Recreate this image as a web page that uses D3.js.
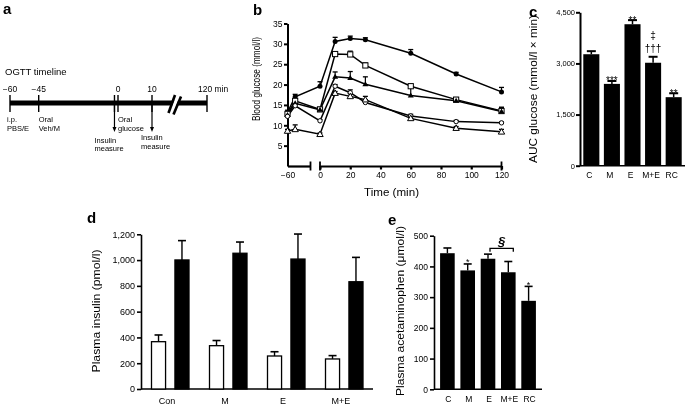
<!DOCTYPE html>
<html><head><meta charset="utf-8">
<script src="https://cdn.jsdelivr.net/npm/d3@7"></script>
<style>body{margin:0;background:#fff}svg{display:block;filter:grayscale(1);-webkit-font-smoothing:antialiased}text{font-family:"Liberation Sans",Arial,Helvetica,sans-serif;fill:#000}</style>
</head><body><svg id="c" width="685" height="405"></svg>
<script>
// ---------- DATA ----------
// panel a (timeline schematic)
const timelineTicks = [-60, -45, -2, 0, 10, 120];
const timelineLabelTimes = [-60, -45, 0, 10, 120];
const timelineLabels = ["−60", "−45", "0", "10", "120 min"];
const timelineNotes = [["i.p.", "PBS/E"], ["Oral", "Veh/M"], ["Oral", "glucose"]];
const timelineNoteTimes = [-60, -45, 0];
const insulinMeasureTimes = [-2, 10];

// panel b (OGTT curves)
const glucoseTimes = [-60, -55, 0, 10, 20, 30, 60, 90, 120];
const glucoseFilledCircle = [13.2, 17.0, 19.6, 30.6, 31.3, 31.0, 27.7, 22.6, 18.2];
const errFilledCircle     = [0.5, 0.6, 1.1, 1.0, 0.6, 0.5, 0.9, 0.4, 1.1];
const glucoseOpenSquare   = [12.8, 16.0, 13.9, 27.5, 27.4, 24.7, 19.6, 16.3, 13.5];
const errOpenSquare       = [0.4, 0.5, 0.5, 0.4, 0.8, 0.6, 0.4, 0.4, 0.9];
const glucoseFilledTri    = [12.5, 15.4, 13.8, 21.9, 21.6, 20.1, 17.3, 16.0, 13.4];
const errFilledTri        = [0.4, 0.4, 0.4, 1.2, 1.6, 1.8, 2.2, 0.8, 1.0];
const glucoseOpenCircle   = [12.2, 14.8, 11.1, 19.6, 18.0, 15.6, 12.3, 10.9, 10.6];
const errOpenCircle       = [0.3, 0.4, 0.3, 0.4, 0.7, 0.7, 0.4, 0.3, 0.2];
const glucoseOpenTri      = [8.6, 9.0, 7.8, 17.9, 17.1, 16.3, 11.7, 9.3, 8.4];
const errOpenTri          = [0.4, 1.1, 0.3, 0.4, 0.7, 0.8, 0.4, 0.4, 0.6];
const glucoseTicks = [5, 10, 15, 20, 25, 30, 35];
const timeTicks = [0, 20, 40, 60, 80, 100, 120];

// panel c (AUC)
const aucCats = ["C", "M", "E", "M+E", "RC"];
const aucValues = [3270, 2400, 4150, 3020, 2010];
const aucErr = [90, 85, 120, 175, 115];
const aucMarks = ["", "***", "**", "†††", "**"];
const aucMarks2 = ["", "", "", "‡", ""];
const aucTicks = [0, 1500, 3000, 4500];

// panel d (insulin)
const insulinCats = ["Con", "M", "E", "M+E"];
const insulinPre = [367, 336, 256, 233];
const insulinPreErr = [52, 40, 33, 26];
const insulinPost = [1001, 1053, 1008, 832];
const insulinPostErr = [150, 87, 194, 189];
const insulinTicks = [0, 200, 400, 600, 800, 1000, 1200];

// panel e (acetaminophen)
const acetCats = ["C", "M", "E", "M+E", "RC"];
const acetValues = [443, 387, 425, 381, 288];
const acetErr = [17, 21, 15, 35, 47];
const acetMarks = ["", "*", "", "", "*"];
const acetTicks = [0, 100, 200, 300, 400, 500];

// ---------- DRAW ----------
const svg = d3.select("#c");
const FONT = '"Liberation Sans", Arial, Helvetica, sans-serif';

function txt(g, x, y, s, size, anchor) {
  return g.append("text").attr("x", x).attr("y", y).attr("font-size", size)
    .attr("text-anchor", anchor || "start").text(s);
}
function vlabel(g, cx, cy, s, size, len) {
  const t = g.append("text").attr("transform", `translate(${cx},${cy}) rotate(-90)`)
    .attr("text-anchor", "middle").attr("font-size", size).text(s);
  if (len) t.attr("textLength", len).attr("lengthAdjust", "spacingAndGlyphs");
  return t;
}
function styleAxis(g, size, sw) {
  g.attr("font-family", FONT).attr("font-size", size);
  g.selectAll(".domain").attr("stroke-width", sw);
  g.selectAll(".tick line").attr("stroke-width", sw);
  g.selectAll(".tick text").attr("fill", "#000");
}
function panelLabel(s, x, y) {
  svg.append("text").attr("x", x).attr("y", y).attr("font-size", 15).attr("font-weight", "bold").text(s);
}

// ===== Panel a =====
(function () {
  const g = svg.append("g");
  const tl = d3.scaleLinear().domain([-60, -45, 0, 10, 120]).range([10, 38.7, 118, 152, 207]);
  panelLabel("a", 3, 14);
  txt(g, 5, 75, "OGTT timeline", 9.5);
  timelineLabelTimes.forEach((t, i) => {
    if (timelineLabels[i].includes("min")) txt(g, tl(t) - 9, 91.5, timelineLabels[i], 8.5);
    else txt(g, tl(t), 91.5, timelineLabels[i], 8.5, "middle");
  });
  g.append("line").attr("x1", tl(-60)).attr("x2", tl(120)).attr("y1", 103).attr("y2", 103)
    .attr("stroke", "#000").attr("stroke-width", 5);
  timelineTicks.forEach(t => {
    g.append("line").attr("x1", tl(t)).attr("x2", tl(t)).attr("y1", 95).attr("y2", 112)
      .attr("stroke", "#000").attr("stroke-width", 1.4);
  });
  // axis break
  const bx = tl(55);
  g.append("polygon").attr("points", `${bx - 4},110 ${bx + 1},97 ${bx + 5},97 ${bx},110`).attr("fill", "#fff");
  g.append("line").attr("x1", bx - 6).attr("y1", 113).attr("x2", bx + 0.5).attr("y2", 95)
    .attr("stroke", "#000").attr("stroke-width", 2.6);
  g.append("line").attr("x1", bx - 1).attr("y1", 114.5).attr("x2", bx + 6.5).attr("y2", 96.5)
    .attr("stroke", "#000").attr("stroke-width", 2.6);
  timelineNoteTimes.forEach((t, i) => {
    const x0 = tl(t) + (i === 0 ? -3 : 0);
    txt(g, x0, 121.5, timelineNotes[i][0], 7.5);
    txt(g, x0, 131, timelineNotes[i][1], 7.5);
  });
  insulinMeasureTimes.forEach((t, i) => {
    const x = tl(t);
    g.append("line").attr("x1", x).attr("x2", x).attr("y1", 103).attr("y2", 128)
      .attr("stroke", "#000").attr("stroke-width", 1.2);
    g.append("path").attr("d", `M${x - 2},127 L${x + 2},127 L${x},132 Z`).attr("fill", "#000");
    const lx = i === 0 ? x - 20 : x - 11;
    const ly = i === 0 ? 142.5 : 140;
    txt(g, lx, ly, "Insulin", 7.5);
    txt(g, lx, ly + 8.5, "measure", 7.5);
  });
})();

// ===== Panel b =====
(function () {
  const g = svg.append("g");
  panelLabel("b", 253, 15);
  const y = d3.scaleLinear().domain([0, 35]).range([166, 23.5]);
  const xL = d3.scaleLinear().domain([-60, -45]).range([287.5, 310.5]);
  const xR = d3.scaleLinear().domain([0, 120]).range([320, 501.5]);
  const x = t => (t < -30 ? xL(t) : xR(t));

  const ya = g.append("g").attr("transform", `translate(${xL(-60)},0)`)
    .call(d3.axisLeft(y).tickValues(glucoseTicks).tickSize(3.5).tickSizeOuter(0).tickPadding(1.5));
  styleAxis(ya, 8.5, 2);
  // left x segment
  const xa1 = g.append("g").attr("transform", "translate(0,166)")
    .call(d3.axisBottom(xL).tickValues([-60]).tickFormat(() => "−60").tickSize(0).tickSizeOuter(0).tickPadding(6));
  styleAxis(xa1, 8.5, 2.2);
  g.append("line").attr("x1", xL(-45)).attr("x2", xL(-45)).attr("y1", 161.5).attr("y2", 170.5)
    .attr("stroke", "#000").attr("stroke-width", 1.8);
  // right x segment
  const xa2 = g.append("g").attr("transform", "translate(0,166)")
    .call(d3.axisBottom(xR).tickValues(timeTicks).tickSize(3.5).tickSizeOuter(0).tickPadding(2.5));
  styleAxis(xa2, 8.5, 2.2);
  [0, 120].forEach(t => g.append("line").attr("x1", xR(t)).attr("x2", xR(t)).attr("y1", 161.5).attr("y2", 170.5)
    .attr("stroke", "#000").attr("stroke-width", 1.8));
  const tt = txt(g, 391.5, 196, "Time (min)", 10.5, "middle");
  tt.attr("textLength", 55).attr("lengthAdjust", "spacingAndGlyphs");
  vlabel(g, 260, 79, "Blood glucose (mmol/l)", 10, 84);

  const series = [
    { v: glucoseFilledCircle, e: errFilledCircle, m: "fcircle" },
    { v: glucoseOpenSquare, e: errOpenSquare, m: "osquare" },
    { v: glucoseFilledTri, e: errFilledTri, m: "ftri" },
    { v: glucoseOpenCircle, e: errOpenCircle, m: "ocircle" },
    { v: glucoseOpenTri, e: errOpenTri, m: "otri" }
  ];
  const line = d3.line().x(d => x(d.t)).y(d => y(d.v));
  series.forEach(s => {
    const pts = glucoseTimes.map((t, i) => ({ t, v: s.v[i], e: s.e[i] }));
    g.append("path").datum(pts).attr("d", line).attr("fill", "none").attr("stroke", "#000").attr("stroke-width", 1.5);
  });
  series.forEach(s => {
    glucoseTimes.forEach((t, i) => {
      const cx = x(t), y0 = y(s.v[i]), y1 = y(s.v[i] + s.e[i]);
      g.append("line").attr("x1", cx).attr("x2", cx).attr("y1", y0).attr("y2", y1).attr("stroke", "#000").attr("stroke-width", 1.2);
      g.append("line").attr("x1", cx - 2.5).attr("x2", cx + 2.5).attr("y1", y1).attr("y2", y1).attr("stroke", "#000").attr("stroke-width", 1.3);
    });
  });
  series.forEach(s => {
    glucoseTimes.forEach((t, i) => {
      const cx = x(t), cy = y(s.v[i]);
      if (s.m === "fcircle") g.append("circle").attr("cx", cx).attr("cy", cy).attr("r", 2.5).attr("fill", "#000");
      else if (s.m === "ocircle") g.append("circle").attr("cx", cx).attr("cy", cy).attr("r", 2.2).attr("fill", "#fff").attr("stroke", "#000").attr("stroke-width", 1);
      else if (s.m === "osquare") g.append("rect").attr("x", cx - 2.6).attr("y", cy - 2.6).attr("width", 5.2).attr("height", 5.2).attr("fill", "#fff").attr("stroke", "#000").attr("stroke-width", 1);
      else if (s.m === "ftri") g.append("path").attr("d", `M${cx},${cy - 3} L${cx + 3},${cy + 2} L${cx - 3},${cy + 2} Z`).attr("fill", "#000");
      else g.append("path").attr("d", `M${cx},${cy - 3.2} L${cx + 3.2},${cy + 2.3} L${cx - 3.2},${cy + 2.3} Z`).attr("fill", "#fff").attr("stroke", "#000").attr("stroke-width", 1);
    });
  });
})();

// ===== Panel c =====
(function () {
  const g = svg.append("g");
  panelLabel("c", 529, 17);
  const y = d3.scaleLinear().domain([0, 4500]).range([165.7, 12.3]);
  const x = d3.scaleBand().domain(aucCats).range([580, 685]).paddingInner(0.22).paddingOuter(0.16);
  const ya = g.append("g").attr("transform", "translate(580,0)")
    .call(d3.axisLeft(y).tickValues(aucTicks).tickFormat(d3.format(",")).tickSize(4).tickSizeOuter(0).tickPadding(1));
  styleAxis(ya, 7.5, 2);
  g.append("line").attr("x1", 580).attr("x2", 685).attr("y1", 165.7).attr("y2", 165.7).attr("stroke", "#000").attr("stroke-width", 1.6);
  vlabel(g, 537, 89, "AUC glucose (mmol/l × min)", 10, 148);
  aucCats.forEach((c, i) => {
    const bx = x(c), bw = x.bandwidth(), cx = bx + bw / 2;
    g.append("rect").attr("x", bx).attr("y", y(aucValues[i])).attr("width", bw).attr("height", y(0) - y(aucValues[i])).attr("fill", "#000");
    const ty = y(aucValues[i] + aucErr[i]);
    g.append("line").attr("x1", cx).attr("x2", cx).attr("y1", y(aucValues[i])).attr("y2", ty).attr("stroke", "#000").attr("stroke-width", 1.5);
    g.append("line").attr("x1", cx - 4.5).attr("x2", cx + 4.5).attr("y1", ty).attr("y2", ty).attr("stroke", "#000").attr("stroke-width", 2);
    if (aucMarks[i].startsWith("*")) txt(g, cx, ty + 3.5, aucMarks[i], 10, "middle");
    else if (aucMarks[i]) txt(g, cx, ty - 5, aucMarks[i], 10, "middle");
    if (aucMarks2[i]) txt(g, cx, ty - 18, aucMarks2[i], 10, "middle");
    txt(g, cx - 2, 178, c, 8.5, "middle");
  });
})();

// ===== Panel d =====
(function () {
  const g = svg.append("g");
  panelLabel("d", 87, 223);
  const y = d3.scaleLinear().domain([0, 1200]).range([389, 234.3]);
  const x = d3.scaleBand().domain(insulinCats).range([141, 373]);
  const xs = d3.scaleBand().domain(["pre", "post"]).range([10.5, 48]).paddingInner(0.4);
  const ya = g.append("g").attr("transform", "translate(141,0)")
    .call(d3.axisLeft(y).tickValues(insulinTicks).tickFormat(d3.format(",")).tickSize(4).tickSizeOuter(0).tickPadding(2));
  styleAxis(ya, 9, 1.6);
  g.append("line").attr("x1", 141).attr("x2", 373).attr("y1", 389).attr("y2", 389).attr("stroke", "#000").attr("stroke-width", 1.6);
  vlabel(g, 100, 311, "Plasma insulin (pmol/l)", 10.5, 123);
  insulinCats.forEach((c, i) => {
    [["pre", insulinPre, insulinPreErr, "#fff"], ["post", insulinPost, insulinPostErr, "#000"]].forEach(([k, vals, errs, fill]) => {
      const bx = x(c) + xs(k), bw = xs.bandwidth(), cx = bx + bw / 2;
      const ty = y(vals[i] + errs[i]);
      g.append("line").attr("x1", cx).attr("x2", cx).attr("y1", y(vals[i])).attr("y2", ty).attr("stroke", "#000").attr("stroke-width", 1.4);
      g.append("line").attr("x1", cx - 4).attr("x2", cx + 4).attr("y1", ty).attr("y2", ty).attr("stroke", "#000").attr("stroke-width", 1.6);
      g.append("rect").attr("x", bx).attr("y", y(vals[i])).attr("width", bw).attr("height", y(0) - y(vals[i]))
        .attr("fill", fill).attr("stroke", "#000").attr("stroke-width", 1.3);
    });
    txt(g, x(c) + x.bandwidth() / 2 - 3, 404, c, 9, "middle");
  });
})();

// ===== Panel e =====
(function () {
  const g = svg.append("g");
  panelLabel("e", 388, 225);
  const y = d3.scaleLinear().domain([0, 500]).range([389.3, 235.7]);
  const x = d3.scaleBand().domain(acetCats).range([434, 542]).paddingInner(0.28).paddingOuter(0.3);
  const ya = g.append("g").attr("transform", "translate(434,0)")
    .call(d3.axisLeft(y).tickValues(acetTicks).tickSize(4).tickSizeOuter(0).tickPadding(2));
  styleAxis(ya, 8.5, 1.6);
  g.append("line").attr("x1", 434).attr("x2", 542).attr("y1", 389.3).attr("y2", 389.3).attr("stroke", "#000").attr("stroke-width", 1.6);
  vlabel(g, 404, 311, "Plasma acetaminophen (μmol/l)", 10.5, 170);
  acetCats.forEach((c, i) => {
    const bx = x(c), bw = x.bandwidth(), cx = bx + bw / 2;
    const ty = y(acetValues[i] + acetErr[i]);
    g.append("line").attr("x1", cx).attr("x2", cx).attr("y1", y(acetValues[i])).attr("y2", ty).attr("stroke", "#000").attr("stroke-width", 1.4);
    g.append("line").attr("x1", cx - 4).attr("x2", cx + 4).attr("y1", ty).attr("y2", ty).attr("stroke", "#000").attr("stroke-width", 1.6);
    g.append("rect").attr("x", bx).attr("y", y(acetValues[i])).attr("width", bw).attr("height", y(0) - y(acetValues[i])).attr("fill", "#000");
    if (acetMarks[i]) txt(g, cx, ty + 1.5, acetMarks[i], 9, "middle");
    txt(g, cx + 1, 401.5, c, 8.5, "middle");
  });
  // § bracket between E and M+E
  const x1 = x("E") + x.bandwidth() / 2 + 2, x2 = x("M+E") + x.bandwidth() / 2 + 5;
  const by = 248.3;
  g.append("path").attr("d", `M${x1},${by + 3.5} L${x1},${by} L${x2},${by} L${x2},${by + 3.5}`)
    .attr("fill", "none").attr("stroke", "#000").attr("stroke-width", 1.3);
  g.append("text").attr("x", (x1 + x2) / 2).attr("y", by - 2.5).attr("text-anchor", "middle")
    .attr("font-size", 13).attr("font-weight", "bold").attr("font-style", "italic").text("§");
})();
</script>
</body></html>
